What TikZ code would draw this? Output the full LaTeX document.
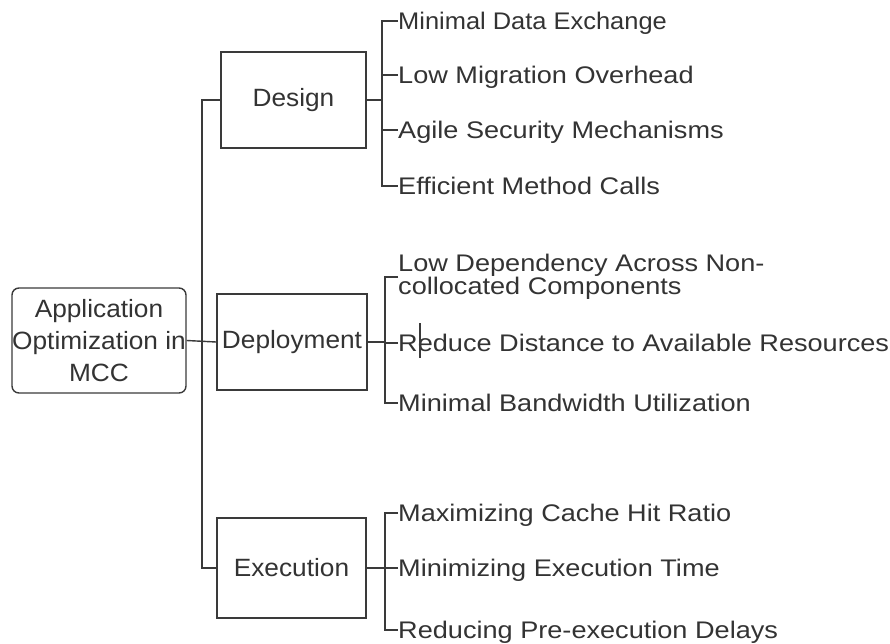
\documentclass[tikz,border=0pt]{standalone}
\usepackage{fontspec}
\setmainfont{Liberation Sans}
\newfontfamily\itemfont[FakeStretch=1.13]{Liberation Sans}
\newfontfamily\itemfontb[FakeStretch=1.06]{Liberation Sans}
\newfontfamily\boxfont[FakeStretch=1.05]{Liberation Sans}
\definecolor{linec}{HTML}{3A3A3A}
\definecolor{txt}{HTML}{333333}
\begin{document}
\begin{tikzpicture}[x=1pt,y=-1pt,
  line/.style={draw=linec, line width=1.4pt},
  box/.style={draw=linec, line width=1.4pt, text=txt, font=\boxfont\fontsize{25}{32}\selectfont, align=center, inner sep=0pt},
  item/.style={anchor=west, text=txt, font=\itemfont\fontsize{24}{22}\selectfont, inner sep=0pt, text height=17pt, text depth=0pt},
  itemtwo/.style={anchor=west, text=txt, font=\itemfont\fontsize{24}{22}\selectfont, inner sep=0pt, align=left}]
\useasboundingbox (0,0) rectangle (890,643);
% main boxes
\node[box, rounded corners=7pt, minimum width=174pt, minimum height=105pt] (root) at (99,340.5) {Application\\Optimization in\\MCC};
\node[box, minimum width=145pt, minimum height=96pt] (design) at (293.5,100) {Design};
\node[box, minimum width=150pt, minimum height=96pt] (deploy) at (292,342) {Deployment};
\node[box, minimum width=149pt, minimum height=100pt] (exec) at (291.5,568) {Execution};
% trunk
\coordinate (tr) at (202,342);
\draw[line] (design.west) -| (tr) |- (exec.west);
\draw[line] (root.east) -- (deploy.west);
% design items
\node[item, font=\itemfontb\fontsize{24}{22}\selectfont] (d1) at (398,21) {Minimal Data Exchange};
\node[item] (d2) at (398,75) {Low Migration Overhead};
\node[item] (d3) at (398,130) {Agile Security Mechanisms};
\node[item] (d4) at (398,186) {Efficient Method Calls};
\coordinate (db) at (382,100);
\draw[line] (d1.west) -| (db) |- (d4.west);
\draw[line] (design.east) -- (db);
\draw[line] (d2.west) -- (d2.west -| db);
\draw[line] (d3.west) -- (d3.west -| db);
% deployment items
\node[itemtwo] (p1) at (398,277) {Low Dependency Across Non-\\collocated Components};
\node[item] (p2) at (398,343) {Reduce Distance to Available Resources};
\node[item] (p3) at (398,403) {Minimal Bandwidth Utilization};
\coordinate (pb) at (385,342);
\draw[line] (p1.west) -| (pb) |- (p3.west);
\draw[line] (deploy.east) -- (pb);
\draw[line] (p2.west) -- (p2.west -| pb);
\draw[draw=linec, line width=1.2pt] (420,323) -- (420,358);
% execution items
\node[item] (e1) at (398,513) {Maximizing Cache Hit Ratio};
\node[item] (e2) at (398,568) {Minimizing Execution Time};
\node[item] (e3) at (398,630) {Reducing Pre-execution Delays};
\coordinate (eb) at (385,568);
\draw[line] (e1.west) -| (eb) |- (e3.west);
\draw[line] (exec.east) -- (eb);
\draw[line] (e2.west) -- (e2.west -| eb);
\end{tikzpicture}
\end{document}
